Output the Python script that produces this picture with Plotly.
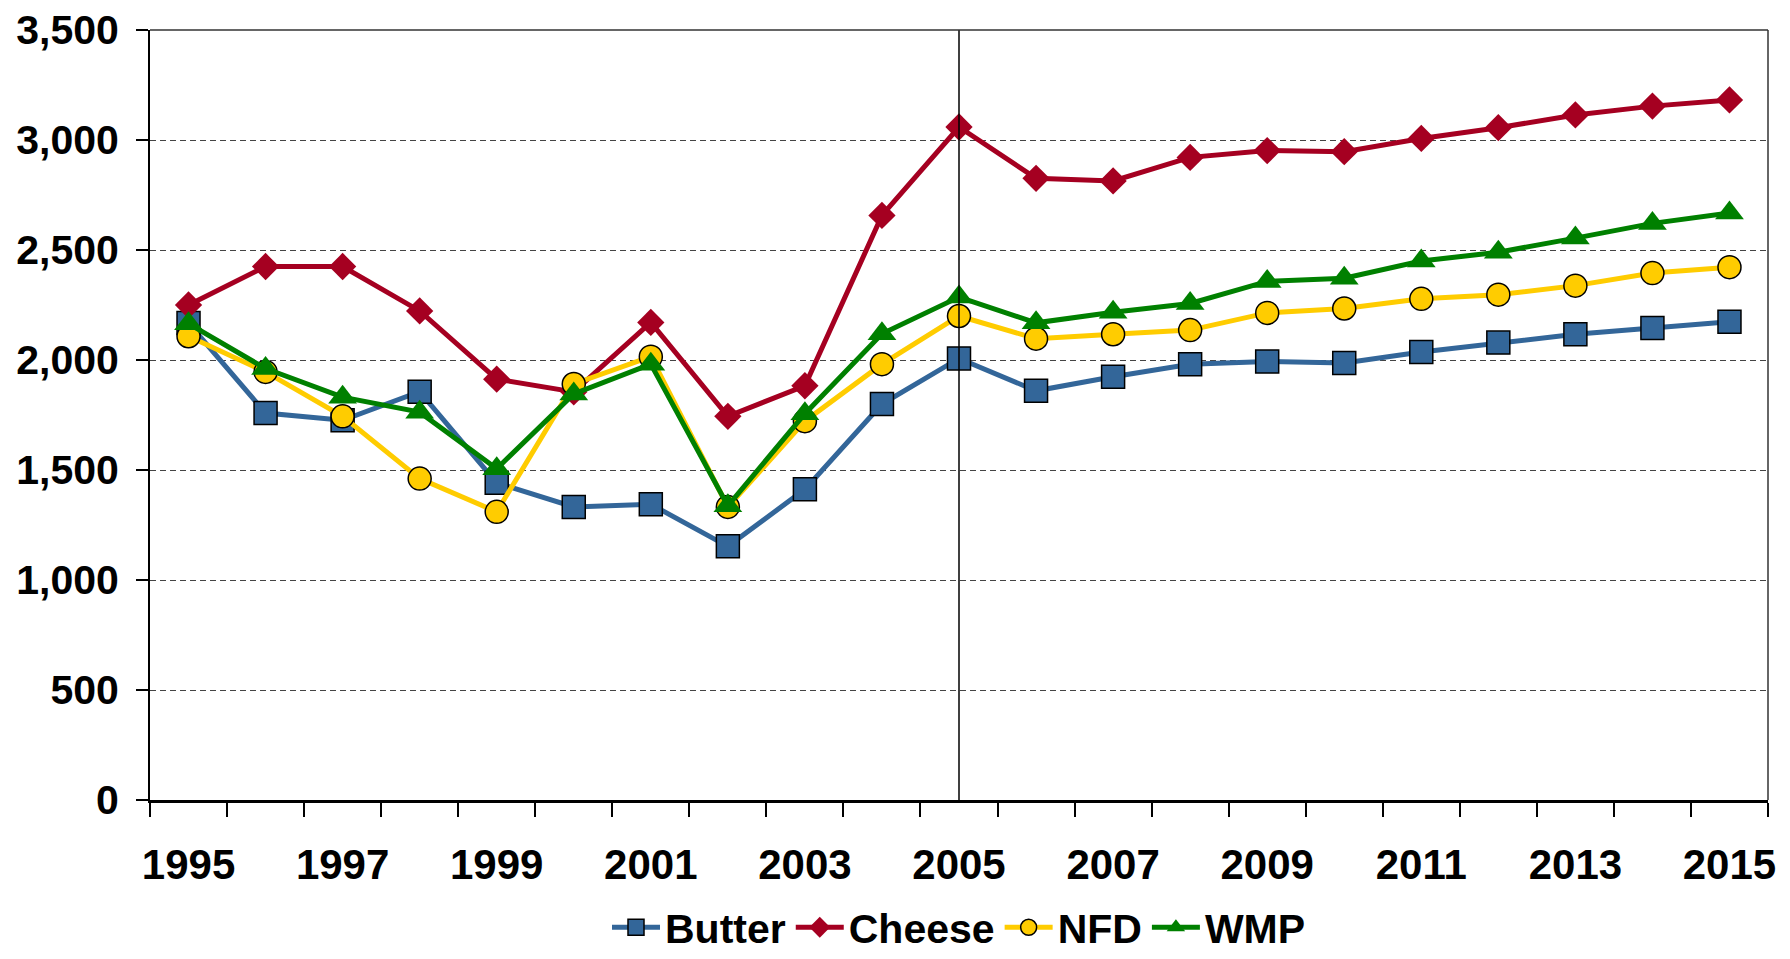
import plotly.graph_objects as go

years = list(range(1995, 2016))
butter = [2168, 1759, 1726, 1856, 1442, 1332, 1344, 1153, 1412, 1800, 2007,
          1860, 1924, 1981, 1993, 1986, 2036, 2079, 2117, 2145, 2174]
cheese = [2250, 2425, 2425, 2223, 1913, 1855, 2171, 1744, 1883, 2657, 3059,
          2826, 2814, 2921, 2952, 2947, 3007, 3056, 3114, 3154, 3182]
nfd = [2108, 1946, 1744, 1461, 1310, 1891, 2015, 1332, 1722, 1981, 2200,
       2097, 2117, 2136, 2214, 2234, 2278, 2297, 2338, 2395, 2422]
wmp = [2165, 1961, 1831, 1763, 1506, 1846, 1981, 1337, 1756, 2119, 2286,
       2169, 2217, 2257, 2357, 2372, 2450, 2490, 2554, 2621, 2668]
year_labels = [str(y) for y in range(1995, 2016, 2)]
y_ticks = [0, 500, 1000, 1500, 2000, 2500, 3000, 3500]
divider_year = 2005

FONT = "Liberation Sans, Arial, sans-serif"

fig = go.Figure()
series = [
    ("Butter", butter, "#336699", "square", 23, dict(color="#000000", width=1.5)),
    ("Cheese", cheese, "#A50021", "diamond", 21, dict(color="#A50021", width=0)),
    ("NFD", nfd, "#FFCC00", "circle", 23, dict(color="#000000", width=1.5)),
    ("WMP", wmp, "#008000", "triangle-up", 25, dict(color="#008000", width=0)),
]
for name, vals, col, sym, size, line in series:
    fig.add_trace(go.Scatter(
        x=years, y=vals, name=name, mode="lines+markers",
        line=dict(color=col, width=5),
        marker=dict(symbol=sym, size=size, color=col, line=line),
    ))

fig.add_shape(type="line", xref="x", yref="paper", x0=divider_year, x1=divider_year,
              y0=0, y1=1, line=dict(color="#000000", width=1.5))
fig.add_shape(type="line", xref="paper", yref="paper", x0=0, x1=1, y0=1, y1=1,
              line=dict(color="#333333", width=1.5))
fig.add_shape(type="line", xref="paper", yref="paper", x0=1, x1=1, y0=0, y1=1,
              line=dict(color="#333333", width=1.5))

fig.update_layout(
    width=1782, height=951,
    margin=dict(l=142, r=22, t=22, b=159),
    paper_bgcolor="white", plot_bgcolor="white",
    font=dict(family=FONT, size=40, color="#000000"),
    showlegend=True,
    legend=dict(orientation="h", x=0.5, xanchor="center",
                yref="container", y=0.033, yanchor="middle",
                font=dict(family=FONT, size=41, color="#000000", weight="bold"),
                itemwidth=48, tracegroupgap=0),
    xaxis=dict(
        range=[1994.5, 2015.5], tickmode="array",
        tickvals=[int(s) for s in year_labels], ticktext=year_labels,
        ticks="", showgrid=False, zeroline=False, automargin=False,
        ticklabeloverflow="allow",
        showline=True, linecolor="#000000", linewidth=3,
        tickfont=dict(family=FONT, size=42, color="#000000", weight="bold"),
        ticklabelstandoff=26,
        minor=dict(tickmode="linear", tick0=1994.5, dtick=1, ticks="outside",
                   ticklen=14, tickwidth=1.5, tickcolor="#000000", showgrid=False),
    ),
    yaxis=dict(
        range=[0, 3500], tickmode="array", tickvals=y_ticks,
        tickformat=",", ticks="outside", ticklen=12, tickwidth=1.5, tickcolor="#000000",
        showgrid=True, gridcolor="#444444", gridwidth=1, griddash="6px,4px",
        zeroline=False, showline=True, linecolor="#000000", linewidth=2, automargin=False,
        ticklabeloverflow="allow",
        tickfont=dict(family=FONT, size=41, color="#000000", weight="bold"),
        ticklabelstandoff=9,
    ),
)

fig.write_html("out.html")
